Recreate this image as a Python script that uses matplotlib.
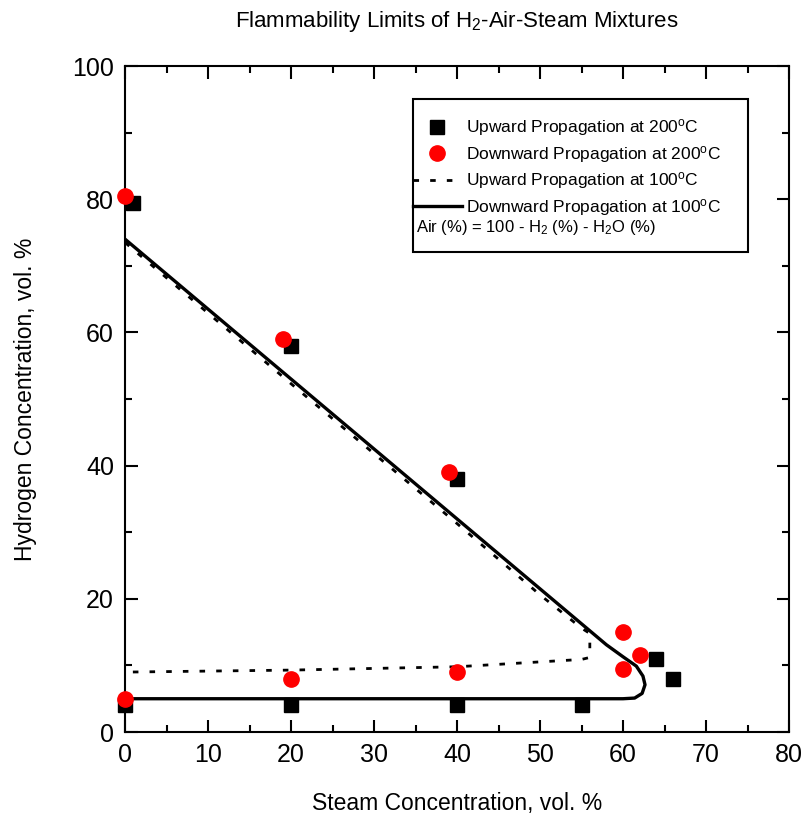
import numpy as np
import matplotlib
matplotlib.use("Agg")
import matplotlib.pyplot as plt
from matplotlib.patches import Rectangle

plt.rcParams['font.family'] = ['Liberation Sans', 'DejaVu Sans']
plt.rcParams['mathtext.fontset'] = 'custom'
plt.rcParams['mathtext.rm'] = 'Liberation Sans'
plt.rcParams['mathtext.it'] = 'Liberation Sans'

# upward propagation at 200 C (squares)
up200_x = [1, 20, 40, 64, 66, 55, 40, 20, 0]
up200_y = [79.5, 58, 38, 11, 8, 4, 4, 4, 4]

# downward propagation at 200 C (circles)
down200_x = [0, 19, 39, 60, 62, 60, 40, 20, 0]
down200_y = [80.5, 59, 39, 15, 11.5, 9.5, 9, 8, 5]

# upward propagation at 100 C (dotted curve)
up100_x = [0, 20, 40, 50, 55, 56, 56, 55, 40, 20, 0]
up100_y = [73.5, 52.3, 31.3, 20.6, 15.6, 14.8, 11.2, 10.9, 9.8, 9.3, 9.0]

# downward propagation at 100 C (solid curve)
down100_x = [0, 58, 60, 61.6, 62.4, 62.65, 62.3, 61.4, 60, 0]
down100_y = [74, 13.1, 11.3, 9.9, 8.4, 7.1, 5.8, 5.1, 5, 5]

fig = plt.figure(figsize=(8.03, 8.15), dpi=100)
ax = fig.add_axes([0.1557, 0.1018, 0.8269, 0.8172])

ax.plot(up100_x, up100_y, color='black', lw=2, linestyle=(0, (2, 4)),
        label='Upward Propagation at 100$^\\mathrm{o}$C', zorder=2)
ax.plot(down100_x, down100_y, color='black', lw=2.4, solid_joinstyle='round',
        label='Downward Propagation at 100$^\\mathrm{o}$C', zorder=2)
ax.plot(up200_x, up200_y, 's', color='black', markersize=10, linestyle='none',
        label='Upward Propagation at 200$^\\mathrm{o}$C', zorder=3, clip_on=False)
ax.plot(down200_x, down200_y, 'o', color='#ff0000', markersize=11, linestyle='none',
        label='Downward Propagation at 200$^\\mathrm{o}$C', zorder=4, clip_on=False)

ax.set_xlim(0, 80)
ax.set_ylim(0, 100)
ax.set_xticks(np.arange(0, 81, 10))
ax.set_xticks(np.arange(0, 81, 5), minor=True)
ax.set_yticks(np.arange(0, 101, 20))
ax.set_yticks(np.arange(0, 101, 10), minor=True)
ax.tick_params(which='both', direction='in', top=True, right=True, width=1.5,
               labelsize=18, pad=8)
ax.tick_params(which='major', length=9)
ax.tick_params(which='minor', length=5)
for s in ax.spines.values():
    s.set_linewidth(1.5)

ax.set_xlabel('Steam Concentration, vol. %', fontsize=16.5, labelpad=18)
ax.set_ylabel('Hydrogen Concentration, vol. %', fontsize=16.5, labelpad=25)
ax.set_title('Flammability Limits of H$_2$-Air-Steam Mixtures', fontsize=16, pad=28)

# legend box drawn separately so the handles can touch its left edge
ax.add_patch(Rectangle((0.4337, 0.7207), 0.5046, 0.2298, transform=ax.transAxes,
                       facecolor='white', edgecolor='black', lw=1.5, zorder=5))
h, l = ax.get_legend_handles_labels()
order = [2, 3, 0, 1]
leg = ax.legend([h[i] for i in order], [l[i] for i in order], loc='upper left',
                bbox_to_anchor=(0.4337, 0.923), fontsize=12.5, frameon=False,
                handlelength=2.8, handletextpad=0.25, borderaxespad=0, borderpad=0,
                labelspacing=0.32, numpoints=1)
leg.set_zorder(6)
ax.text(0.438, 0.757, 'Air (%) = 100 - H$_2$ (%) - H$_2$O (%)', transform=ax.transAxes,
        fontsize=12, va='center', ha='left', zorder=7)

fig.savefig('out.png', dpi=100)
